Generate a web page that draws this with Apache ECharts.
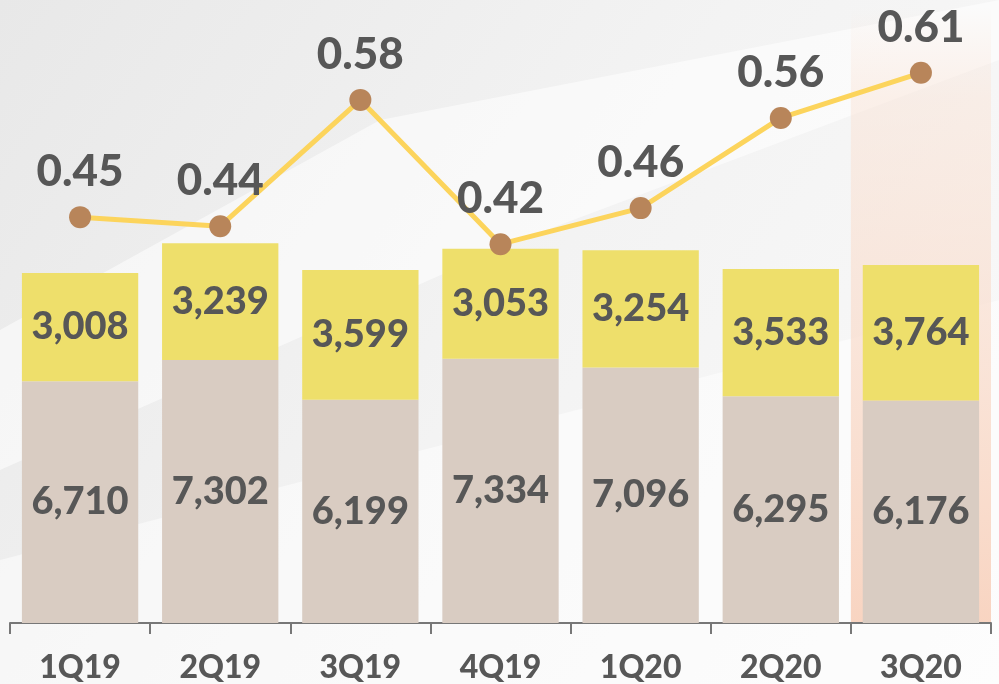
<!DOCTYPE html>
<html>
<head>
<meta charset="utf-8">
<title>quarterly</title>
<script src="https://cdn.jsdelivr.net/npm/echarts@6/dist/echarts.min.js"></script>
<style>
	html, body {margin: 0; padding: 0; background: #f4f4f4;}
	#main {width: 999px; height: 684px;}
</style>
</head>
<body>
<div id="main"></div>
<script>
var quarters = ['1Q19', '2Q19', '3Q19', '4Q19', '1Q20', '2Q20', '3Q20']
var lowerPart = [6710, 7302, 6199, 7334, 7096, 6295, 6176]
var upperPart = [3008, 3239, 3599, 3053, 3254, 3533, 3764]
var ratio = [0.45, 0.44, 0.58, 0.42, 0.46, 0.56, 0.61]

window.onload = function () {
	var textColor = '#575757'
	var font = 'Lato, "Liberation Sans", sans-serif'
	// 最后一个季度的高亮底色
	var highlight = new echarts.graphic.LinearGradient(0, 0, 0, 1, [
		{offset: 0, color: 'rgba(250,225,210,0)'},
		{offset: 0.15, color: 'rgba(250,228,215,0.5)'},
		{offset: 1, color: 'rgba(248,210,190,0.95)'}
	])
	var bandColors = []
	for (let i = 0; i < quarters.length; i++) {
		bandColors.push(i === quarters.length - 1 ? highlight : 'rgba(0,0,0,0)')
	}
	var valueLabel = {
		show: true,
		position: 'inside',
		color: textColor,
		fontSize: 38,
		fontWeight: 900,
		formatter: function (p) {
			return p.value.toLocaleString('en-US')
		}
	}
	let options = {
		backgroundColor: new echarts.graphic.LinearGradient(0, 0, 1, 1, [
			{offset: 0, color: '#e8e8e8'},
			{offset: 0.5, color: '#f3f3f3'},
			{offset: 1, color: '#fafafa'}
		]),
		textStyle: {fontFamily: font},
		graphic: [
			{
				type: 'polygon', z: -1, silent: true,
				shape: {points: [[0, 330], [380, 120], [999, 0], [999, 60], [520, 240], [0, 470]]},
				style: {fill: 'rgba(255,255,255,0.55)'}
			},
			{
				type: 'polygon', z: -1, silent: true,
				shape: {points: [[0, 684], [0, 560], [999, 300], [999, 684]]},
				style: {fill: 'rgba(255,255,255,0.5)'}
			}
		],
		grid: {
			top: 7,
			bottom: 59,
			left: 10,
			right: 8,
			containLabel: false
		},
		xAxis: {
			type: 'category',
			data: quarters,
			axisLine: {lineStyle: {color: '#777777', width: 2}},
			axisTick: {show: true, length: 11, lineStyle: {color: '#777777', width: 2}},
			axisLabel: {
				color: textColor,
				fontSize: 32,
				fontWeight: 900,
				margin: 29
			},
			splitArea: {show: true, areaStyle: {color: bandColors}}
		},
		yAxis: [
			{type: 'value', min: 0, max: 17100, show: false, splitLine: {show: false}},
			{type: 'value', min: 0, max: 0.683, show: false, splitLine: {show: false}}
		],
		series: [
			{
				type: 'bar',
				stack: 'total',
				barWidth: '83%',
				data: lowerPart,
				itemStyle: {color: '#d9ccc2'},
				label: valueLabel
			},
			{
				type: 'bar',
				stack: 'total',
				barWidth: '83%',
				data: upperPart,
				itemStyle: {color: '#eedf6b'},
				label: valueLabel
			},
			{
				type: 'line',
				yAxisIndex: 1,
				data: ratio,
				z: 5,
				symbol: 'circle',
				symbolSize: 22,
				lineStyle: {color: '#fcd45c', width: 5},
				itemStyle: {color: '#b8855a'},
				label: {
					show: true,
					position: 'top',
					distance: 12,
					color: textColor,
					fontSize: 44,
					fontWeight: 900,
					formatter: function (p) {
						return p.value.toFixed(2)
					}
				}
			}
		]
	}
	var myChart = echarts.init(document.getElementById('main'))
	myChart.setOption(options)
}
</script>
</body>
</html>
